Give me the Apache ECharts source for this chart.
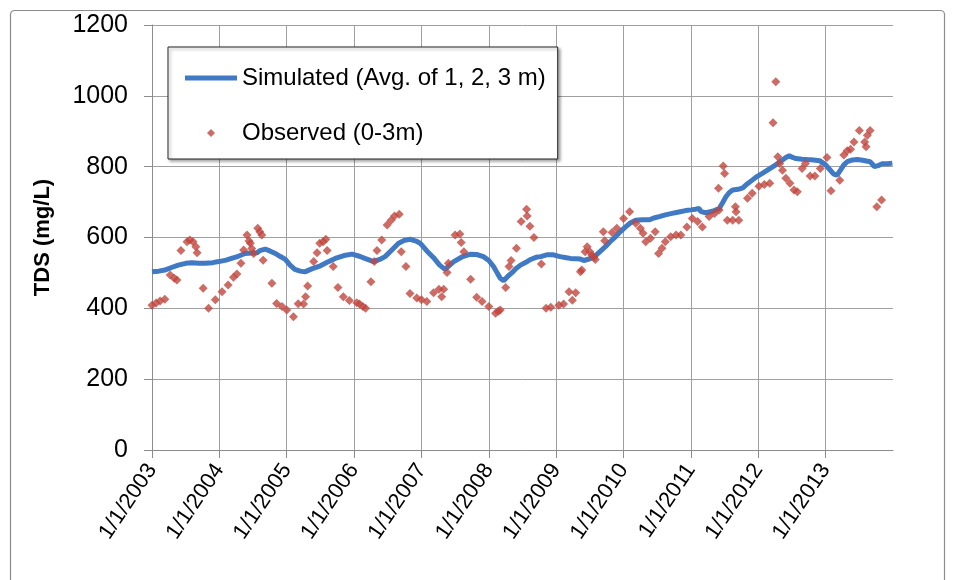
<!DOCTYPE html>
<html>
<head>
<meta charset="utf-8">
<script src="https://cdn.jsdelivr.net/npm/echarts@6/dist/echarts.min.js"></script>
<style>
  html, body { margin: 0; padding: 0; background: #fff; }
  #TdsChart { width: 958px; height: 580px; }
</style>
</head>
<body>
<div id="TdsChart"></div>
<script>
// x values are decimal years
const yearTicks = [2003, 2004, 2005, 2006, 2007, 2008, 2009, 2010, 2011, 2012, 2013];

const simYear = [
  2003.00, 2003.10, 2003.19, 2003.30, 2003.39, 2003.50, 2003.59, 2003.70, 2003.79, 2003.90,
  2003.99, 2004.10, 2004.18, 2004.28, 2004.38, 2004.48, 2004.56, 2004.60, 2004.68, 2004.75,
  2004.83, 2004.90, 2004.98, 2005.05, 2005.12, 2005.20, 2005.27, 2005.38, 2005.50, 2005.60,
  2005.72, 2005.85, 2005.97, 2006.08, 2006.16, 2006.29, 2006.38, 2006.46, 2006.56, 2006.66,
  2006.75, 2006.83, 2006.92, 2006.98, 2007.08, 2007.18, 2007.27, 2007.35, 2007.42, 2007.48,
  2007.60, 2007.73, 2007.82, 2007.92, 2008.00, 2008.07, 2008.13, 2008.17, 2008.22, 2008.28,
  2008.34, 2008.40, 2008.47, 2008.55, 2008.62, 2008.70, 2008.77, 2008.86, 2008.96, 2009.06,
  2009.15, 2009.21, 2009.30, 2009.36, 2009.41, 2009.50, 2009.58, 2009.65, 2009.73, 2009.80,
  2009.88, 2009.95, 2010.03, 2010.10, 2010.18, 2010.28, 2010.38, 2010.45, 2010.53, 2010.62,
  2010.72, 2010.82, 2010.92, 2011.00, 2011.07, 2011.12, 2011.15, 2011.22, 2011.32, 2011.42,
  2011.47, 2011.52, 2011.57, 2011.62, 2011.70, 2011.77, 2011.84, 2011.91, 2011.98, 2012.06,
  2012.16, 2012.26, 2012.31, 2012.36, 2012.41, 2012.46, 2012.51, 2012.56, 2012.65, 2012.73,
  2012.82, 2012.91, 2013.00, 2013.06, 2013.12, 2013.17, 2013.22, 2013.27, 2013.32, 2013.40,
  2013.47, 2013.55, 2013.66, 2013.70, 2013.72, 2013.78, 2013.84, 2013.92, 2013.99
];
const simTDS = [
  503, 505, 508, 516, 522, 527, 529, 527, 527, 529,
  532, 536, 541, 547, 555, 556, 557, 563, 567, 562,
  555, 547, 538, 522, 510, 505, 503, 512, 520, 530,
  541, 549, 553, 547, 541, 532, 538, 546, 565, 584,
  592, 595, 590, 584, 562, 543, 522, 510, 522, 532,
  545, 553, 552, 546, 535, 518, 498, 485, 478, 490,
  500, 512, 522, 530, 538, 544, 546, 551, 551, 546,
  543, 541, 540, 539, 535, 540, 548, 560, 574, 588,
  602, 616, 630, 641, 649, 650, 650, 655, 659, 664,
  668, 672, 676, 678, 680, 682, 673, 670, 674, 682,
  698, 715, 727, 734, 736, 740, 752, 762, 772, 781,
  793, 805, 813, 819, 826, 831, 826, 823, 821, 820,
  819, 817, 805, 792, 779, 776, 790, 805, 814, 819,
  820, 818, 814, 806, 800, 803, 808, 808, 810
];

const obsYear = [
  2003.00, 2003.06, 2003.12, 2003.19, 2003.27, 2003.33, 2003.37, 2003.43, 2003.52, 2003.56,
  2003.61, 2003.65, 2003.67, 2003.76, 2003.84, 2003.94, 2004.04, 2004.13, 2004.21, 2004.26,
  2004.32, 2004.36, 2004.41, 2004.44, 2004.46, 2004.48, 2004.51, 2004.57, 2004.60, 2004.63,
  2004.65, 2004.78, 2004.85, 2004.93, 2005.00, 2005.10, 2005.17, 2005.25, 2005.28, 2005.31,
  2005.40, 2005.45, 2005.49, 2005.54, 2005.58, 2005.60, 2005.69, 2005.76, 2005.84, 2005.93,
  2006.04, 2006.08, 2006.13, 2006.17, 2006.25, 2006.30, 2006.34, 2006.41, 2006.49, 2006.55,
  2006.60, 2006.67, 2006.70, 2006.77, 2006.83, 2006.93, 2007.00, 2007.08, 2007.18, 2007.26,
  2007.30, 2007.33, 2007.38, 2007.40, 2007.50, 2007.57, 2007.59, 2007.63, 2007.73, 2007.82,
  2007.90, 2008.00, 2008.10, 2008.14, 2008.17, 2008.25, 2008.30, 2008.33, 2008.41, 2008.48,
  2008.56, 2008.57, 2008.61, 2008.67, 2008.78, 2008.85, 2008.92, 2009.04, 2009.11, 2009.19,
  2009.24, 2009.29, 2009.36, 2009.38, 2009.43, 2009.46, 2009.50, 2009.53, 2009.56, 2009.58,
  2009.70, 2009.72, 2009.83, 2009.90, 2010.00, 2010.09, 2010.18, 2010.25, 2010.29, 2010.33,
  2010.40, 2010.47, 2010.52, 2010.57, 2010.62, 2010.70, 2010.78, 2010.85, 2010.94, 2011.02,
  2011.10, 2011.17, 2011.27, 2011.35, 2011.41, 2011.42, 2011.48, 2011.50, 2011.54, 2011.62,
  2011.66, 2011.67, 2011.71, 2011.84, 2011.91, 2012.01, 2012.09, 2012.17, 2012.22, 2012.26,
  2012.29, 2012.32, 2012.36, 2012.41, 2012.47, 2012.53, 2012.58, 2012.65, 2012.70, 2012.77,
  2012.84, 2012.92, 2013.02, 2013.08, 2013.21, 2013.27, 2013.32, 2013.37, 2013.42, 2013.50,
  2013.58, 2013.60, 2013.62, 2013.66, 2013.76, 2013.83
];
const obsTDS = [
  409, 415, 421, 426, 494, 485, 480, 563, 588, 593,
  588, 574, 557, 457, 400, 424, 447, 466, 488, 497,
  527, 565, 607, 590, 584, 569, 555, 626, 616, 607,
  536, 471, 414, 405, 395, 376, 413, 412, 433, 463,
  532, 557, 584, 588, 595, 563, 518, 459, 433, 422,
  416, 412, 405, 400, 475, 532, 563, 593, 635, 649,
  661, 666, 560, 518, 442, 429, 424, 419, 444, 454,
  433, 454, 501, 527, 607, 610, 586, 560, 482, 431,
  419, 405, 386, 392, 395, 459, 518, 535, 570, 645,
  680, 661, 632, 600, 525, 400, 403, 409, 412, 447,
  423, 444, 503, 508, 560, 574, 560, 550, 545, 538,
  616, 591, 614, 626, 654, 673, 640, 626, 612, 588,
  598, 616, 555, 570, 588, 602, 607, 607, 630, 654,
  645, 630, 659, 668, 739, 678, 802, 781, 649, 649,
  687, 673, 649, 711, 725, 745, 750, 753, 924, 1040,
  828, 809, 790, 767, 753, 734, 729, 795, 809, 774,
  774, 795, 826, 732, 762, 833, 845, 849, 870, 902,
  870, 856, 889, 902, 687, 706
];

const fontName = 'Liberation Sans';
const gridColor = '#a0a0a0';
const simColor = '#4079c4';
const obsColor = '#c0463f';

let chartInstance = echarts.init(document.getElementById('TdsChart'));

const simData = simYear.map((t, i) => [t, simTDS[i]]);
const obsData = obsYear.map((t, i) => [t, obsTDS[i]]);

// last split line (2014) is not drawn in the original
const splitColors = yearTicks.map(() => gridColor).concat(['rgba(0,0,0,0)']);

const option = {
  animation: false,
  backgroundColor: '#fff',
  textStyle: { fontFamily: fontName },
  graphic: [{
    type: 'rect',
    left: 8, top: 8,
    shape: { width: 934, height: 600, r: 4 },
    style: { fill: 'none', stroke: '#8c8c8c', lineWidth: 1.2 },
    silent: true
  }],
  grid: { left: 152, right: 65, top: 25, bottom: 130 },
  legend: {
    orient: 'vertical',
    left: 168, top: 47,
    padding: [19, 12, 14, 17],
    itemGap: 31,
    itemWidth: 52,
    itemHeight: 8,
    symbolKeepAspect: true,
    backgroundColor: '#fff',
    borderColor: '#222',
    borderWidth: 1,
    shadowColor: 'rgba(0,0,0,0.35)',
    shadowBlur: 3,
    shadowOffsetX: 2,
    shadowOffsetY: 2,
    textStyle: { fontSize: 24, color: '#000', fontFamily: fontName },
    data: [
      { name: 'Simulated (Avg. of 1, 2, 3 m)', icon: 'path://M0,0L52,0L52,5L0,5Z', itemStyle: { color: simColor } },
      { name: 'Observed (0-3m)', icon: 'path://M0,4L4,0L8,4L4,8Z', itemStyle: { color: obsColor } }
    ]
  },
  xAxis: {
    type: 'value',
    min: 2003,
    max: 2014,
    interval: 1,
    axisLine: { show: true, lineStyle: { color: '#8c8c8c', width: 1 } },
    axisTick: { show: true, length: 8, lineStyle: { color: '#8c8c8c' } },
    axisLabel: {
      rotate: 56,
      margin: 16,
      fontSize: 22,
      color: '#000',
      fontFamily: fontName,
      showMaxLabel: false,
      formatter: (v) => '1/1/' + v
    },
    splitLine: { show: true, lineStyle: { color: splitColors, width: 1 } }
  },
  yAxis: {
    type: 'value',
    min: 0,
    max: 1200,
    interval: 200,
    name: 'TDS (mg/L)',
    nameLocation: 'middle',
    nameGap: 98,
    nameTextStyle: { fontSize: 22, fontWeight: 'bold', color: '#000', fontFamily: fontName },
    axisLine: { show: true, lineStyle: { color: '#8c8c8c', width: 1 } },
    axisTick: { show: true, length: 8, lineStyle: { color: '#8c8c8c' } },
    axisLabel: { fontSize: 25, color: '#000', margin: 24, fontFamily: fontName, formatter: (v) => String(v) },
    splitLine: { show: true, lineStyle: { color: gridColor, width: 1 } }
  },
  series: [
    {
      name: 'Simulated (Avg. of 1, 2, 3 m)',
      type: 'line',
      data: simData,
      showSymbol: false,
      symbol: 'none',
      lineStyle: { color: simColor, width: 5 },
      itemStyle: { color: simColor },
      z: 3
    },
    {
      name: 'Observed (0-3m)',
      type: 'scatter',
      data: obsData,
      symbol: 'diamond',
      symbolSize: 9,
      itemStyle: { color: obsColor },
      z: 4
    }
  ]
};

chartInstance.setOption(option);
</script>
</body>
</html>
